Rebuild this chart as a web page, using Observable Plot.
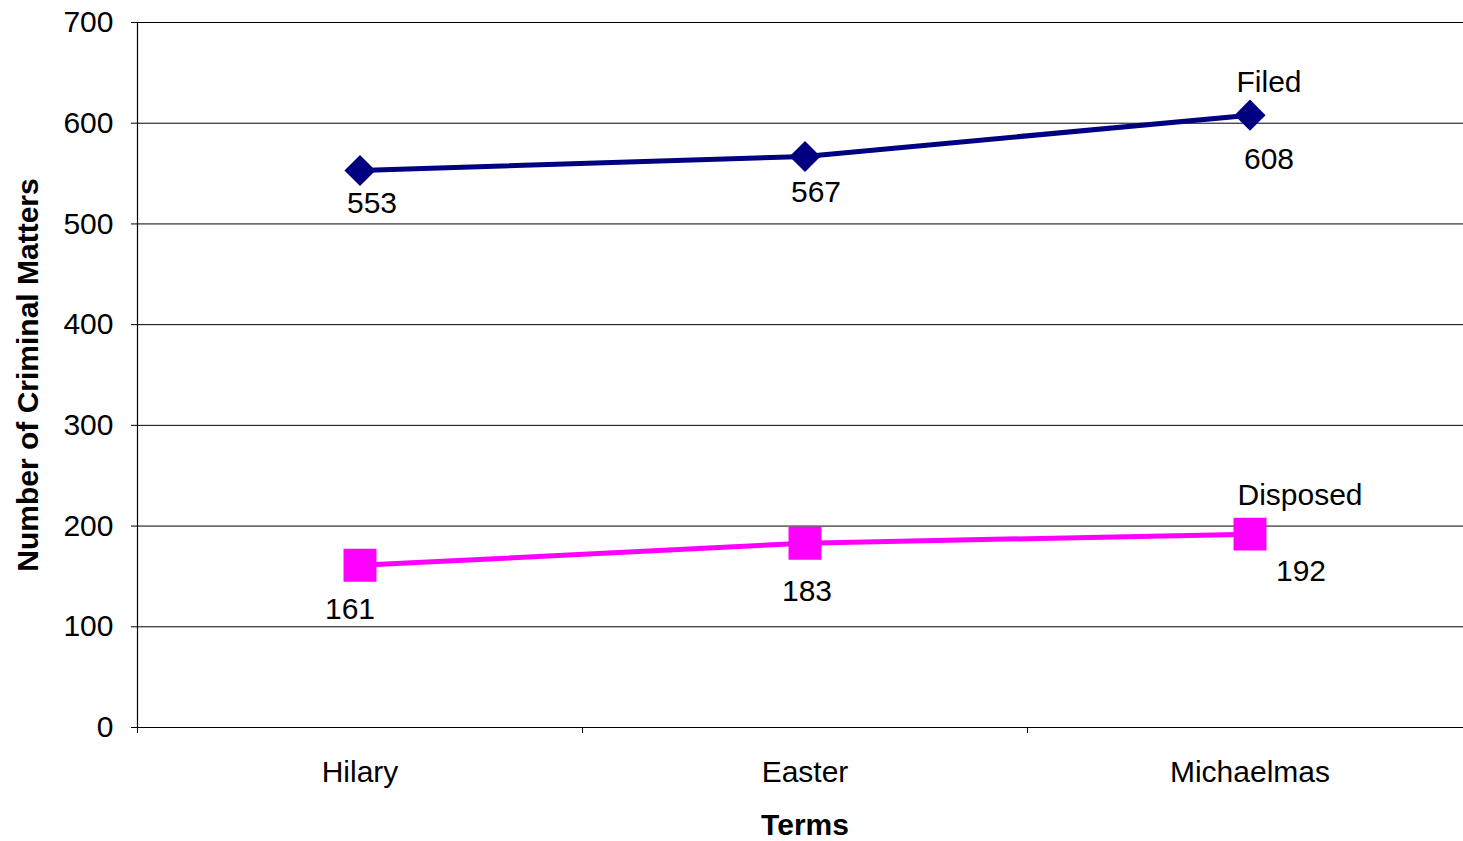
<!DOCTYPE html>
<html>
<head>
<meta charset="utf-8">
<script src="https://cdn.jsdelivr.net/npm/d3@7"></script>
<script src="https://cdn.jsdelivr.net/npm/@observablehq/plot@0.6"></script>
<style>
  html, body { margin: 0; padding: 0; background: #fff; }
  #chart { width: 1463px; height: 841px; }
</style>
</head>
<body>
<div id="chart"></div>
<script>
// ---- data ----
const terms = ["Hilary", "Easter", "Michaelmas"];
const filed = [553, 567, 608];
const disposed = [161, 183, 192];
const yTicks = [0, 100, 200, 300, 400, 500, 600, 700];
const seriesNames = ["Filed", "Disposed"];
const yLabel = "Number of Criminal Matters";
const xLabel = "Terms";

// ---- layout (not data) ----
const W = 1463, H = 841;
const mL = 137, mT = 22, mB = 114, mR = -9;
const bandW = (W - mL - mR) / terms.length;
const navy = "#000080", magenta = "#FF00FF";
const FS = 30;
const filedOff = [[12, 33], [11, 36], [19, 44]];
const dispOff = [[-10, 44], [2, 48], [51, 37]];
const nameOff = [[19, -33], [50, -39]];

const filedRows = terms.map((t, i) => ({term: t, value: filed[i]}));
const dispRows = terms.map((t, i) => ({term: t, value: disposed[i]}));

const labelMarks = [];
filedRows.forEach((d, i) => labelMarks.push(
  Plot.text([d], {x: "term", y: "value", text: d => String(d.value), dx: filedOff[i][0], dy: filedOff[i][1], fontSize: FS, fill: "#000", lineAnchor: "middle"})
));
dispRows.forEach((d, i) => labelMarks.push(
  Plot.text([d], {x: "term", y: "value", text: d => String(d.value), dx: dispOff[i][0], dy: dispOff[i][1], fontSize: FS, fill: "#000", lineAnchor: "middle"})
));
const lastIdx = terms.length - 1;
labelMarks.push(Plot.text([filedRows[lastIdx]], {x: "term", y: "value", text: () => seriesNames[0], dx: nameOff[0][0], dy: nameOff[0][1], fontSize: FS, fill: "#000", lineAnchor: "middle"}));
labelMarks.push(Plot.text([dispRows[lastIdx]], {x: "term", y: "value", text: () => seriesNames[1], dx: nameOff[1][0], dy: nameOff[1][1], fontSize: FS, fill: "#000", lineAnchor: "middle"}));

const chart = Plot.plot({
  width: W,
  height: H,
  marginLeft: mL,
  marginRight: mR,
  marginTop: mT,
  marginBottom: mB,
  style: {fontFamily: "'Liberation Sans', Arial, sans-serif", background: "#fff", overflow: "visible"},
  x: {type: "band", domain: terms, padding: 0, label: null},
  y: {domain: [0, 700], label: null},
  marks: [
    Plot.gridY(yTicks, {stroke: "#000", strokeOpacity: 1, strokeWidth: 1}),
    Plot.frame({anchor: "left", stroke: "#000", strokeWidth: 1.2}),
    Plot.ruleY([0], {stroke: "#000", strokeWidth: 1.2}),
    Plot.ruleX(terms, {x: d => d, dx: -bandW / 2, y1: 0, y2: 0, insetTop: 0, insetBottom: -6, stroke: "#000", strokeWidth: 1}),
    Plot.axisY(yTicks, {tickSize: 6, tickPadding: 18, fontSize: FS, label: null, stroke: "#000"}),
    Plot.axisX({tickSize: 0, tickPadding: 33, fontSize: FS, label: null}),
    Plot.text([yLabel], {frameAnchor: "left", textAnchor: "middle", rotate: -90, dx: -109, fontSize: FS, fontWeight: "bold", fill: "#000", lineAnchor: "middle"}),
    Plot.text([xLabel], {frameAnchor: "bottom", textAnchor: "middle", dy: 98, fontSize: FS, fontWeight: "bold", fill: "#000", lineAnchor: "middle"}),
    Plot.line(filedRows, {x: "term", y: "value", stroke: navy, strokeWidth: 5}),
    Plot.line(dispRows, {x: "term", y: "value", stroke: magenta, strokeWidth: 5}),
    Plot.dot(filedRows, {x: "term", y: "value", symbol: "diamond2", r: 14, fill: navy, stroke: "none"}),
    Plot.dot(dispRows, {x: "term", y: "value", symbol: "square", r: 18.6, fill: magenta, stroke: "none"}),
    ...labelMarks
  ]
});
document.getElementById("chart").appendChild(chart);
</script>
</body>
</html>
